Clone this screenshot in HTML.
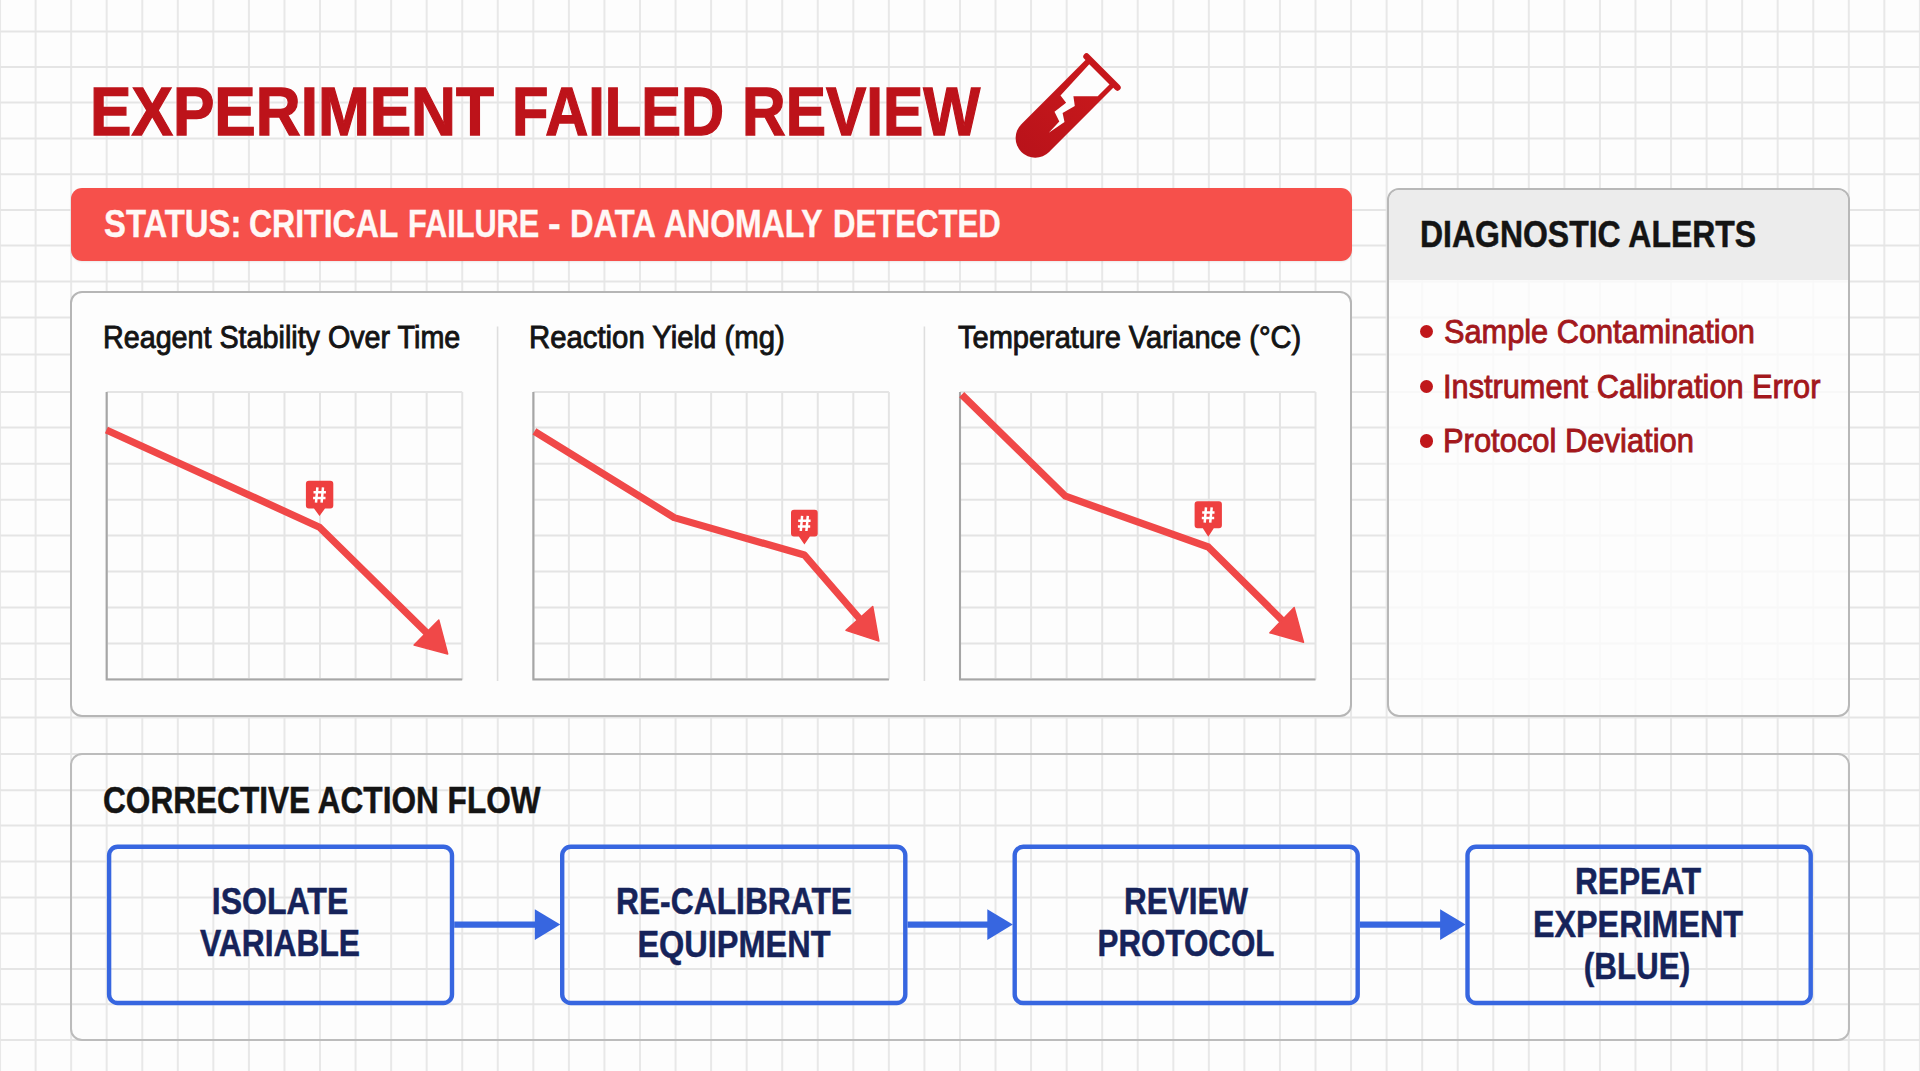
<!DOCTYPE html>
<html><head><meta charset="utf-8"><style>
html,body{margin:0;padding:0} 
body{width:1920px;height:1071px;overflow:hidden;background:#fdfdfd;position:relative;font-family:"Liberation Sans", sans-serif}
.abs{position:absolute}
.t{position:absolute;white-space:nowrap;line-height:1;transform-origin:0 0}
.c{position:absolute;white-space:nowrap;line-height:1;width:1000px;text-align:center;transform-origin:50% 0}
</style></head><body>
<svg class="abs" width="1920" height="1071" style="left:0;top:0"><g stroke="#e8e8e8" stroke-width="2"><line x1="0.05" y1="0" x2="0.05" y2="1071"/><line x1="35.60" y1="0" x2="35.60" y2="1071"/><line x1="71.15" y1="0" x2="71.15" y2="1071"/><line x1="106.71" y1="0" x2="106.71" y2="1071"/><line x1="142.26" y1="0" x2="142.26" y2="1071"/><line x1="177.81" y1="0" x2="177.81" y2="1071"/><line x1="213.36" y1="0" x2="213.36" y2="1071"/><line x1="248.92" y1="0" x2="248.92" y2="1071"/><line x1="284.47" y1="0" x2="284.47" y2="1071"/><line x1="320.02" y1="0" x2="320.02" y2="1071"/><line x1="355.58" y1="0" x2="355.58" y2="1071"/><line x1="391.13" y1="0" x2="391.13" y2="1071"/><line x1="426.68" y1="0" x2="426.68" y2="1071"/><line x1="462.24" y1="0" x2="462.24" y2="1071"/><line x1="497.79" y1="0" x2="497.79" y2="1071"/><line x1="533.34" y1="0" x2="533.34" y2="1071"/><line x1="568.89" y1="0" x2="568.89" y2="1071"/><line x1="604.45" y1="0" x2="604.45" y2="1071"/><line x1="640.00" y1="0" x2="640.00" y2="1071"/><line x1="675.55" y1="0" x2="675.55" y2="1071"/><line x1="711.11" y1="0" x2="711.11" y2="1071"/><line x1="746.66" y1="0" x2="746.66" y2="1071"/><line x1="782.21" y1="0" x2="782.21" y2="1071"/><line x1="817.77" y1="0" x2="817.77" y2="1071"/><line x1="853.32" y1="0" x2="853.32" y2="1071"/><line x1="888.87" y1="0" x2="888.87" y2="1071"/><line x1="924.42" y1="0" x2="924.42" y2="1071"/><line x1="959.98" y1="0" x2="959.98" y2="1071"/><line x1="995.53" y1="0" x2="995.53" y2="1071"/><line x1="1031.08" y1="0" x2="1031.08" y2="1071"/><line x1="1066.64" y1="0" x2="1066.64" y2="1071"/><line x1="1102.19" y1="0" x2="1102.19" y2="1071"/><line x1="1137.74" y1="0" x2="1137.74" y2="1071"/><line x1="1173.30" y1="0" x2="1173.30" y2="1071"/><line x1="1208.85" y1="0" x2="1208.85" y2="1071"/><line x1="1244.40" y1="0" x2="1244.40" y2="1071"/><line x1="1279.95" y1="0" x2="1279.95" y2="1071"/><line x1="1315.51" y1="0" x2="1315.51" y2="1071"/><line x1="1351.06" y1="0" x2="1351.06" y2="1071"/><line x1="1386.61" y1="0" x2="1386.61" y2="1071"/><line x1="1422.17" y1="0" x2="1422.17" y2="1071"/><line x1="1457.72" y1="0" x2="1457.72" y2="1071"/><line x1="1493.27" y1="0" x2="1493.27" y2="1071"/><line x1="1528.83" y1="0" x2="1528.83" y2="1071"/><line x1="1564.38" y1="0" x2="1564.38" y2="1071"/><line x1="1599.93" y1="0" x2="1599.93" y2="1071"/><line x1="1635.48" y1="0" x2="1635.48" y2="1071"/><line x1="1671.04" y1="0" x2="1671.04" y2="1071"/><line x1="1706.59" y1="0" x2="1706.59" y2="1071"/><line x1="1742.14" y1="0" x2="1742.14" y2="1071"/><line x1="1777.70" y1="0" x2="1777.70" y2="1071"/><line x1="1813.25" y1="0" x2="1813.25" y2="1071"/><line x1="1848.80" y1="0" x2="1848.80" y2="1071"/><line x1="1884.36" y1="0" x2="1884.36" y2="1071"/><line x1="1919.91" y1="0" x2="1919.91" y2="1071"/></g><g stroke="#e5e5e5" stroke-width="2"><line x1="0" y1="31.50" x2="1920" y2="31.50"/><line x1="0" y1="66.90" x2="1920" y2="66.90"/><line x1="0" y1="102.60" x2="1920" y2="102.60"/><line x1="0" y1="138.50" x2="1920" y2="138.50"/><line x1="0" y1="174.20" x2="1920" y2="174.20"/><line x1="0" y1="209.90" x2="1920" y2="209.90"/><line x1="0" y1="245.50" x2="1920" y2="245.50"/><line x1="0" y1="281.50" x2="1920" y2="281.50"/><line x1="0" y1="317.40" x2="1920" y2="317.40"/><line x1="0" y1="354.60" x2="1920" y2="354.60"/><line x1="0" y1="391.90" x2="1920" y2="391.90"/><line x1="0" y1="427.60" x2="1920" y2="427.60"/><line x1="0" y1="463.80" x2="1920" y2="463.80"/><line x1="0" y1="499.70" x2="1920" y2="499.70"/><line x1="0" y1="535.40" x2="1920" y2="535.40"/><line x1="0" y1="571.60" x2="1920" y2="571.60"/><line x1="0" y1="607.50" x2="1920" y2="607.50"/><line x1="0" y1="643.50" x2="1920" y2="643.50"/><line x1="0" y1="678.90" x2="1920" y2="678.90"/><line x1="0" y1="717.50" x2="1920" y2="717.50"/><line x1="0" y1="754.00" x2="1920" y2="754.00"/><line x1="0" y1="790.20" x2="1920" y2="790.20"/><line x1="0" y1="825.50" x2="1920" y2="825.50"/><line x1="0" y1="861.50" x2="1920" y2="861.50"/><line x1="0" y1="897.40" x2="1920" y2="897.40"/><line x1="0" y1="933.50" x2="1920" y2="933.50"/><line x1="0" y1="969.00" x2="1920" y2="969.00"/><line x1="0" y1="1004.20" x2="1920" y2="1004.20"/><line x1="0" y1="1039.90" x2="1920" y2="1039.90"/></g></svg><div class="abs" style="left:71px;top:187.5px;width:1281px;height:73.5px;box-sizing:border-box;background:#f6504b;border-radius:11px;box-shadow:0 1px 2px rgba(0,0,0,0.08)"></div><div class="abs" style="left:70.2px;top:291.2px;width:1281.6px;height:426.2px;box-sizing:border-box;background:#fdfdfd;border:2px solid #b6b6b6;border-radius:12px"></div><div class="abs" style="left:1386.6px;top:187.6px;width:463.20000000000005px;height:529.6px;box-sizing:border-box;background:rgba(253,253,253,0.8);border:2px solid #b8b8b8;border-radius:12px;overflow:hidden"></div><div class="abs" style="left:1388.6px;top:189.6px;width:459.20000000000005px;height:90.4px;box-sizing:border-box;background:#ececec;border-radius:10px 10px 0 0"></div><div class="abs" style="left:70.3px;top:752.6px;width:1779.5px;height:288.30000000000007px;box-sizing:border-box;border:2px solid #bcbcbc;border-radius:12px"></div><svg class="abs" width="1920" height="1071" style="left:0;top:0"><g stroke="#e4e4e4" stroke-width="2"><line x1="106.71" y1="391.9" x2="106.71" y2="679.5"/><line x1="142.26" y1="391.9" x2="142.26" y2="679.5"/><line x1="177.81" y1="391.9" x2="177.81" y2="679.5"/><line x1="213.36" y1="391.9" x2="213.36" y2="679.5"/><line x1="248.92" y1="391.9" x2="248.92" y2="679.5"/><line x1="284.47" y1="391.9" x2="284.47" y2="679.5"/><line x1="320.02" y1="391.9" x2="320.02" y2="679.5"/><line x1="355.58" y1="391.9" x2="355.58" y2="679.5"/><line x1="391.13" y1="391.9" x2="391.13" y2="679.5"/><line x1="426.68" y1="391.9" x2="426.68" y2="679.5"/><line x1="462.24" y1="391.9" x2="462.24" y2="679.5"/><line x1="106.70" y1="391.9" x2="462.20" y2="391.9"/><line x1="106.70" y1="427.6" x2="462.20" y2="427.6"/><line x1="106.70" y1="463.8" x2="462.20" y2="463.8"/><line x1="106.70" y1="499.7" x2="462.20" y2="499.7"/><line x1="106.70" y1="535.4" x2="462.20" y2="535.4"/><line x1="106.70" y1="571.6" x2="462.20" y2="571.6"/><line x1="106.70" y1="607.5" x2="462.20" y2="607.5"/><line x1="106.70" y1="643.5" x2="462.20" y2="643.5"/><line x1="106.70" y1="678.9" x2="462.20" y2="678.9"/></g><path d="M106.70 391.9 V679.5 H462.20" fill="none" stroke="#a6a6a6" stroke-width="2.1"/><g stroke="#e4e4e4" stroke-width="2"><line x1="533.34" y1="391.9" x2="533.34" y2="679.5"/><line x1="568.89" y1="391.9" x2="568.89" y2="679.5"/><line x1="604.45" y1="391.9" x2="604.45" y2="679.5"/><line x1="640.00" y1="391.9" x2="640.00" y2="679.5"/><line x1="675.55" y1="391.9" x2="675.55" y2="679.5"/><line x1="711.11" y1="391.9" x2="711.11" y2="679.5"/><line x1="746.66" y1="391.9" x2="746.66" y2="679.5"/><line x1="782.21" y1="391.9" x2="782.21" y2="679.5"/><line x1="817.77" y1="391.9" x2="817.77" y2="679.5"/><line x1="853.32" y1="391.9" x2="853.32" y2="679.5"/><line x1="888.87" y1="391.9" x2="888.87" y2="679.5"/><line x1="533.40" y1="391.9" x2="888.90" y2="391.9"/><line x1="533.40" y1="427.6" x2="888.90" y2="427.6"/><line x1="533.40" y1="463.8" x2="888.90" y2="463.8"/><line x1="533.40" y1="499.7" x2="888.90" y2="499.7"/><line x1="533.40" y1="535.4" x2="888.90" y2="535.4"/><line x1="533.40" y1="571.6" x2="888.90" y2="571.6"/><line x1="533.40" y1="607.5" x2="888.90" y2="607.5"/><line x1="533.40" y1="643.5" x2="888.90" y2="643.5"/><line x1="533.40" y1="678.9" x2="888.90" y2="678.9"/></g><path d="M533.40 391.9 V679.5 H888.90" fill="none" stroke="#a6a6a6" stroke-width="2.1"/><g stroke="#e4e4e4" stroke-width="2"><line x1="959.98" y1="391.9" x2="959.98" y2="679.5"/><line x1="995.53" y1="391.9" x2="995.53" y2="679.5"/><line x1="1031.08" y1="391.9" x2="1031.08" y2="679.5"/><line x1="1066.64" y1="391.9" x2="1066.64" y2="679.5"/><line x1="1102.19" y1="391.9" x2="1102.19" y2="679.5"/><line x1="1137.74" y1="391.9" x2="1137.74" y2="679.5"/><line x1="1173.30" y1="391.9" x2="1173.30" y2="679.5"/><line x1="1208.85" y1="391.9" x2="1208.85" y2="679.5"/><line x1="1244.40" y1="391.9" x2="1244.40" y2="679.5"/><line x1="1279.95" y1="391.9" x2="1279.95" y2="679.5"/><line x1="1315.51" y1="391.9" x2="1315.51" y2="679.5"/><line x1="960.00" y1="391.9" x2="1315.50" y2="391.9"/><line x1="960.00" y1="427.6" x2="1315.50" y2="427.6"/><line x1="960.00" y1="463.8" x2="1315.50" y2="463.8"/><line x1="960.00" y1="499.7" x2="1315.50" y2="499.7"/><line x1="960.00" y1="535.4" x2="1315.50" y2="535.4"/><line x1="960.00" y1="571.6" x2="1315.50" y2="571.6"/><line x1="960.00" y1="607.5" x2="1315.50" y2="607.5"/><line x1="960.00" y1="643.5" x2="1315.50" y2="643.5"/><line x1="960.00" y1="678.9" x2="1315.50" y2="678.9"/></g><path d="M960.00 391.9 V679.5 H1315.50" fill="none" stroke="#a6a6a6" stroke-width="2.1"/><g stroke="#dedede" stroke-width="1.6"><line x1="497.6" y1="326.5" x2="497.6" y2="681"/><line x1="924.4" y1="326.5" x2="924.4" y2="681"/></g><path d="M106.4 430.0 L319.5 527.2 L426.5 632.6" fill="none" stroke="#f04848" stroke-width="7.2" stroke-linejoin="round"/><path d="M447.7 654.0 L414.1 645.1 L438.8 620.1 Z" fill="#f04848" stroke="#f04848" stroke-width="1.5" stroke-linejoin="round"/><path d="M308.9 480.7 H330.3 Q333.3 480.7 333.3 483.7 V505.6 Q333.3 508.6 330.3 508.6 H325.0 L319.5 516.0 L314.0 508.6 H308.9 Q305.9 508.6 305.9 505.6 V483.7 Q305.9 480.7 308.9 480.7 Z" fill="#ee3f3f"/><path d="M317.4 487.3 L316.0 502.6 M323.0 487.3 L321.6 502.6 M313.5 492.3 H325.9 M313.1 497.9 H325.5" stroke="#fff" stroke-width="2.5" fill="none"/><path d="M534.4 431.4 L674.2 517.6 L804.4 555.0 L859.4 618.5" fill="none" stroke="#f04848" stroke-width="7.2" stroke-linejoin="round"/><path d="M878.9 641.1 L846.0 630.4 L872.7 606.5 Z" fill="#f04848" stroke="#f04848" stroke-width="1.5" stroke-linejoin="round"/><path d="M794.0 509.8 H814.7 Q817.7 509.8 817.7 512.8 V533.4 Q817.7 536.4 814.7 536.4 H809.9 L804.4 544.4 L798.9 536.4 H794.0 Q791.0 536.4 791.0 533.4 V512.8 Q791.0 509.8 794.0 509.8 Z" fill="#ee3f3f"/><path d="M802.1 515.8 L800.8 531.0 M807.8 515.8 L806.4 531.0 M798.2 520.8 H810.6 M797.9 526.4 H810.2" stroke="#fff" stroke-width="2.5" fill="none"/><path d="M961.7 394.6 L1065.5 496.2 L1208.3 547.0 L1282.1 620.2" fill="none" stroke="#f04848" stroke-width="7.2" stroke-linejoin="round"/><path d="M1303.5 642.2 L1269.9 632.8 L1294.2 607.6 Z" fill="#f04848" stroke="#f04848" stroke-width="1.5" stroke-linejoin="round"/><path d="M1197.6 501.2 H1218.9 Q1221.9 501.2 1221.9 504.2 V525.3 Q1221.9 528.3 1218.9 528.3 H1213.8 L1208.3 536.7 L1202.8 528.3 H1197.6 Q1194.6 528.3 1194.6 525.3 V504.2 Q1194.6 501.2 1197.6 501.2 Z" fill="#ee3f3f"/><path d="M1206.0 507.4 L1204.7 522.6 M1211.7 507.4 L1210.2 522.6 M1202.2 512.4 H1214.5 M1201.8 518.0 H1214.2" stroke="#fff" stroke-width="2.5" fill="none"/></svg><svg class="abs" width="1920" height="1071" style="left:0;top:0"><rect x="109.10" y="846.80" width="342.90" height="156.20" rx="8.5" fill="none" stroke="#3766e0" stroke-width="4.4"/><rect x="562.20" y="846.80" width="343.10" height="156.20" rx="8.5" fill="none" stroke="#3766e0" stroke-width="4.4"/><rect x="1014.70" y="846.80" width="343.00" height="156.20" rx="8.5" fill="none" stroke="#3766e0" stroke-width="4.4"/><rect x="1467.50" y="846.80" width="343.20" height="156.20" rx="8.5" fill="none" stroke="#3766e0" stroke-width="4.4"/><line x1="454.2" y1="924.6" x2="538.0" y2="924.6" stroke="#3766e0" stroke-width="6.1"/><path d="M560.3 924.6 L534.8 909.3 L534.8 940.0 Z" fill="#3766e0"/><line x1="907.5" y1="924.6" x2="990.5" y2="924.6" stroke="#3766e0" stroke-width="6.1"/><path d="M1012.8 924.6 L987.3 909.3 L987.3 940.0 Z" fill="#3766e0"/><line x1="1359.9" y1="924.6" x2="1443.3" y2="924.6" stroke="#3766e0" stroke-width="6.1"/><path d="M1465.6 924.6 L1440.1 909.3 L1440.1 940.0 Z" fill="#3766e0"/></svg><svg class="abs" style="left:1000px;top:45px" width="130" height="120" viewBox="1000 45 130 120">
<defs><linearGradient id="tg" x1="0" y1="1" x2="1" y2="0"><stop offset="0" stop-color="#b8121a"/><stop offset="1" stop-color="#cc1a1c"/></linearGradient></defs>
<g fill="url(#tg)">
<path d="M1087.75 57.75 L1115.50 85.50 L1049.10 151.90 A19.62 19.62 0 0 1 1021.35 124.15 Z"/>
<line x1="1086.5" y1="56.5" x2="1117.5" y2="87.5" stroke="#c6171c" stroke-width="6.4" stroke-linecap="round"/>
</g>
<path d="M1089.25 64.25 L1109.50 84.50 L1097.70 96.3 L1073.4 96.3 L1074.8 106.1 L1062.6 113 L1064.5 122 L1048.8 132.7 L1059.3 121.5 L1054.5 111.8 L1066.1 102.8 L1060.5 95.5 Z" fill="#fdfdfd"/>
</svg><div class="abs" style="left:1420.2px;top:325.2px;width:13.2px;height:13.2px;border-radius:50%;background:#c0171b"></div><div class="abs" style="left:1420.2px;top:379.79999999999995px;width:13.2px;height:13.2px;border-radius:50%;background:#c0171b"></div><div class="abs" style="left:1420.2px;top:434.4px;width:13.2px;height:13.2px;border-radius:50%;background:#c0171b"></div>
<div class="t" style="left:90.05px;top:77.58px;font-size:68.5px;font-weight:bold;color:#bd131a;transform:scaleX(0.907);text-shadow:0 0 4px #fff,0 0 2px #fff;-webkit-text-stroke:1.3px #bd131a">EXPERIMENT</div><div class="t" style="left:512.32px;top:77.58px;font-size:68.5px;font-weight:bold;color:#bd131a;transform:scaleX(0.871);text-shadow:0 0 4px #fff,0 0 2px #fff;-webkit-text-stroke:1.3px #bd131a">FAILED</div><div class="t" style="left:741.97px;top:77.58px;font-size:68.5px;font-weight:bold;color:#bd131a;transform:scaleX(0.882);text-shadow:0 0 4px #fff,0 0 2px #fff;-webkit-text-stroke:1.3px #bd131a">REVIEW</div><div class="t" style="left:103.92px;top:205.00px;font-size:38px;font-weight:bold;color:#fff8f6;transform:scaleX(0.864);-webkit-text-stroke:0.4px #fff8f6">STATUS:</div><div class="t" style="left:248.92px;top:205.00px;font-size:38px;font-weight:bold;color:#fff8f6;transform:scaleX(0.842);-webkit-text-stroke:0.4px #fff8f6">CRITICAL</div><div class="t" style="left:407.55px;top:205.00px;font-size:38px;font-weight:bold;color:#fff8f6;transform:scaleX(0.807);-webkit-text-stroke:0.4px #fff8f6">FAILURE</div><div class="t" style="left:548.08px;top:205.00px;font-size:38px;font-weight:bold;color:#fff8f6;transform:scaleX(1.0);-webkit-text-stroke:0.4px #fff8f6">-</div><div class="t" style="left:569.92px;top:205.00px;font-size:38px;font-weight:bold;color:#fff8f6;transform:scaleX(0.859);-webkit-text-stroke:0.4px #fff8f6">DATA</div><div class="t" style="left:664.24px;top:205.00px;font-size:38px;font-weight:bold;color:#fff8f6;transform:scaleX(0.841);-webkit-text-stroke:0.4px #fff8f6">ANOMALY</div><div class="t" style="left:832.82px;top:205.00px;font-size:38px;font-weight:bold;color:#fff8f6;transform:scaleX(0.819);-webkit-text-stroke:0.4px #fff8f6">DETECTED</div><div class="t" style="left:1419.96px;top:216.81px;font-size:36.7px;font-weight:bold;color:#141414;transform:scaleX(0.871);-webkit-text-stroke:0.5px #141414">DIAGNOSTIC ALERTS</div><div class="t" style="left:1443.96px;top:316.00px;font-size:32.7px;font-weight:normal;color:#a3181c;transform:scaleX(0.94);-webkit-text-stroke:0.9px #a3181c">Sample Contamination</div><div class="t" style="left:1442.73px;top:370.81px;font-size:32.7px;font-weight:normal;color:#a3181c;transform:scaleX(0.94);-webkit-text-stroke:0.9px #a3181c">Instrument Calibration Error</div><div class="t" style="left:1443.03px;top:424.50px;font-size:32.7px;font-weight:normal;color:#a3181c;transform:scaleX(0.946);-webkit-text-stroke:0.9px #a3181c">Protocol Deviation</div><div class="t" style="left:102.70px;top:321.79px;font-size:30.6px;font-weight:normal;color:#141414;transform:scaleX(0.938);-webkit-text-stroke:0.9px #141414">Reagent Stability Over Time</div><div class="t" style="left:529.05px;top:321.79px;font-size:30.6px;font-weight:normal;color:#141414;transform:scaleX(0.958);-webkit-text-stroke:0.9px #141414">Reaction Yield (mg)</div><div class="t" style="left:957.92px;top:321.79px;font-size:30.6px;font-weight:normal;color:#141414;transform:scaleX(0.948);-webkit-text-stroke:0.9px #141414">Temperature Variance (°C)</div><div class="t" style="left:103.34px;top:781.67px;font-size:37.1px;font-weight:bold;color:#141414;transform:scaleX(0.852);text-shadow:0 0 3px #fff,0 0 2px #fff;-webkit-text-stroke:0.5px #141414">CORRECTIVE ACTION FLOW</div><div class="c" style="left:-219.95px;top:884.26px;font-size:36.4px;font-weight:bold;color:#16235a;transform:scaleX(0.881);-webkit-text-stroke:0.5px #16235a;text-shadow:0 0 3px #fff,0 0 2px #fff;">ISOLATE</div><div class="c" style="left:-220.30px;top:926.46px;font-size:36.4px;font-weight:bold;color:#16235a;transform:scaleX(0.873);-webkit-text-stroke:0.5px #16235a;text-shadow:0 0 3px #fff,0 0 2px #fff;">VARIABLE</div><div class="c" style="left:233.65px;top:884.36px;font-size:36.4px;font-weight:bold;color:#16235a;transform:scaleX(0.874);-webkit-text-stroke:0.5px #16235a;text-shadow:0 0 3px #fff,0 0 2px #fff;">RE-CALIBRATE</div><div class="c" style="left:233.65px;top:926.56px;font-size:36.4px;font-weight:bold;color:#16235a;transform:scaleX(0.893);-webkit-text-stroke:0.5px #16235a;text-shadow:0 0 3px #fff,0 0 2px #fff;">EQUIPMENT</div><div class="c" style="left:686.15px;top:884.46px;font-size:36.4px;font-weight:bold;color:#16235a;transform:scaleX(0.865);-webkit-text-stroke:0.5px #16235a;text-shadow:0 0 3px #fff,0 0 2px #fff;">REVIEW</div><div class="c" style="left:686.20px;top:926.31px;font-size:36.4px;font-weight:bold;color:#16235a;transform:scaleX(0.861);-webkit-text-stroke:0.5px #16235a;text-shadow:0 0 3px #fff,0 0 2px #fff;">PROTOCOL</div><div class="c" style="left:1137.80px;top:864.16px;font-size:36.4px;font-weight:bold;color:#16235a;transform:scaleX(0.87);-webkit-text-stroke:0.5px #16235a;text-shadow:0 0 3px #fff,0 0 2px #fff;">REPEAT</div><div class="c" style="left:1138.00px;top:906.96px;font-size:36.4px;font-weight:bold;color:#16235a;transform:scaleX(0.888);-webkit-text-stroke:0.5px #16235a;text-shadow:0 0 3px #fff,0 0 2px #fff;">EXPERIMENT</div><div class="c" style="left:1137.20px;top:949.26px;font-size:36.4px;font-weight:bold;color:#16235a;transform:scaleX(0.862);-webkit-text-stroke:0.5px #16235a;text-shadow:0 0 3px #fff,0 0 2px #fff;">(BLUE)</div>
</body></html>
